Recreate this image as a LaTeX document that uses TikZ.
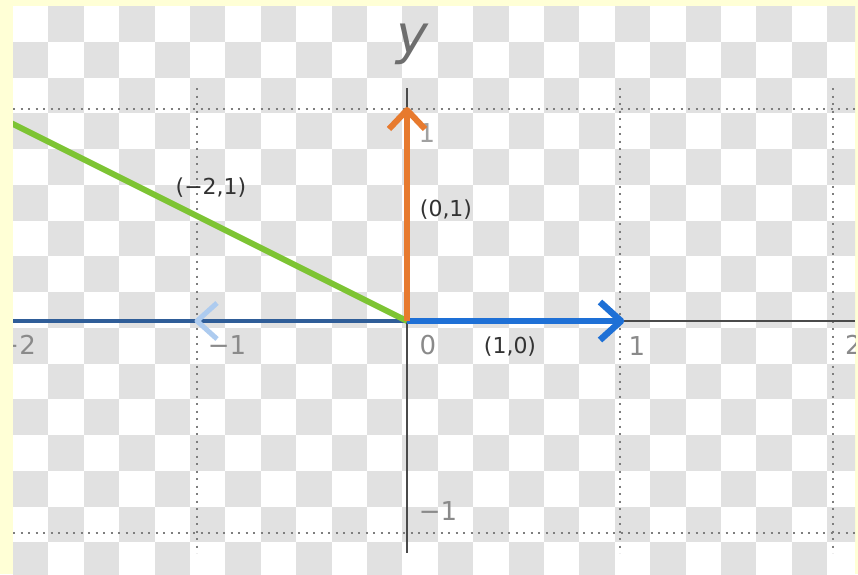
\documentclass[tikz,border=0pt]{standalone}
\usepackage{fontspec}
\setmainfont{DejaVu Sans}
\usetikzlibrary{calc}
\definecolor{bgyellow}{HTML}{FFFFD6}
\definecolor{checkgray}{HTML}{E1E1E1}
\definecolor{dotgray}{HTML}{7E7E7E}
\definecolor{axisgray}{HTML}{4A4A4A}
\definecolor{tickgray}{HTML}{8A8A8A}
\definecolor{lblgray}{HTML}{333333}
\definecolor{vecorange}{HTML}{E77A2E}
\definecolor{vecblue}{HTML}{1E70D6}
\definecolor{vecgreen}{HTML}{7DC433}
\definecolor{axisblue}{HTML}{2F5D98}
\definecolor{ghostblue}{HTML}{ADCBEF}
\begin{document}
\begin{tikzpicture}[x=1pt,y=-1pt,
  gridline/.style={draw=dotgray,line width=2pt,dash pattern=on 2pt off 5.5pt},
  axisline/.style={draw=axisgray,line width=2pt},
  ticklbl/.style={font=\fontsize{26}{26}\selectfont,text=tickgray,inner sep=0pt},
  ptlbl/.style={font=\fontsize{22}{22}\selectfont,text=lblgray,inner sep=0pt},
  orangevec/.style={draw=vecorange,line width=6pt,line join=round},
  bluevec/.style={draw=vecblue,line width=6.5pt,line join=round},
  greenvec/.style={draw=vecgreen,line width=6pt},
  ghostvec/.style={draw=ghostblue,line width=5pt,line join=round}]
\useasboundingbox (0,0) rectangle (858,574);
\fill[bgyellow] (0,0) rectangle (858,574);
\begin{scope}
\clip (13,6) rectangle (855,574);
\fill[white] (13,6) rectangle (855,574);
\foreach \r in {0,...,16} {
  \foreach \c in {0,...,23} {
    \pgfmathtruncatemacro\pp{mod(\r+\c,2)}
    \ifnum\pp=1
      \fill[checkgray] ({13+35.4*\c},{6+35.75*\r}) rectangle ++(35.4,35.75);
    \fi
  }
}
% named points
\coordinate (O) at (407,321);
\coordinate (X1) at (621,321);
\coordinate (Xm1) at (197,321);
\coordinate (Y1) at (407,110);
\coordinate (XL) at (13,321);
\coordinate (XR) at (855,321);
\coordinate (YT) at (407,88);
\coordinate (YB) at (407,553);
\coordinate (G) at (-13,111);
\coordinate (HL1) at (13,109);  \coordinate (HR1) at (855,109);
\coordinate (HL2) at (13,533);  \coordinate (HR2) at (855,533);
\coordinate (VA1) at (197,88);  \coordinate (VB1) at (197,553);
\coordinate (VA2) at (620,88);  \coordinate (VB2) at (620,553);
\coordinate (VA3) at (833,88);  \coordinate (VB3) at (833,553);
% dotted grid
\draw[gridline] (HL1) -- (HR1);
\draw[gridline] (HL2) -- (HR2);
\draw[gridline] (VA1) -- (VB1);
\draw[gridline] (VA2) -- (VB2);
\draw[gridline] (VA3) -- (VB3);
% axes
\draw[axisline] (XL) -- (XR);
\draw[axisline] (YT) -- (YB);
\draw[draw=axisblue,line width=4pt] (XL) -- (O);
% tick labels
\node[ticklbl,anchor=east] (tm2) at (36,345) {−2};
\node[ticklbl] (tm1) at (227,345) {−1};
\node[ticklbl] (t0) at (428,345) {0};
\node[ticklbl] (t1) at (637,346) {1};
\node[ticklbl,anchor=west] (t2) at (845,345) {2};
\node[ticklbl,opacity=0.8] (ty1) at (427,133) {1};
\node[ticklbl] (tym1) at (438,511) {−1};
\node[font=\fontsize{54}{54}\selectfont\itshape,text=axisgray!80,inner sep=0pt] (ylab) at (412,44) {y};
% vectors
\draw[greenvec] (O) -- (G);
\draw[ghostvec] ($(Xm1)+(20,-18)$) -- (Xm1) -- ($(Xm1)+(20,18)$);
\draw[bluevec] (O) -- (X1);
\draw[bluevec] ($(X1)+(-21,-19)$) -- (X1) -- ($(X1)+(-21,19)$);
\draw[orangevec] (O) -- (Y1);
\draw[orangevec] ($(Y1)+(-18,19)$) -- (Y1) -- ($(Y1)+(18,19)$);
% point labels
\node[ptlbl] (lg) at (211,188) {(−2,1)};
\node[ptlbl] (lo) at (446,210) {(0,1)};
\node[ptlbl] (lb) at (510,347) {(1,0)};
\end{scope}
\end{tikzpicture}
\end{document}
